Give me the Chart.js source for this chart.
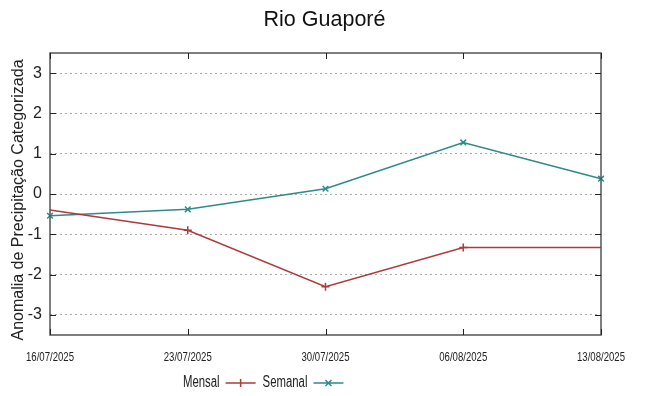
<!DOCTYPE html>
<html>
<head>
<meta charset="utf-8">
<script src="https://cdn.jsdelivr.net/npm/chart.js@4"></script>
<style>
html,body{margin:0;padding:0;background:#fff;}
#wrap{width:649px;height:396px;position:relative;}
</style>
</head>
<body>
<div id="wrap"><canvas id="c" width="649" height="396"></canvas></div>
<script>
const categories = ['16/07/2025', '23/07/2025', '30/07/2025', '06/08/2025', '13/08/2025'];
const mensal = [-0.40, -0.90, -2.30, -1.33, -1.33];
const semanal = [-0.54, -0.38, 0.13, 1.28, 0.38];
const yTicks = [-3, -2, -1, 0, 1, 2, 3];
const chartTitle = 'Rio Guaporé';
const yTitle = 'Anomalia de Precipitação Categorizada';

const RED = '#b03a3a';
const TEAL = '#2f8a8a';
const SANS = '"Liberation Sans", Arial, sans-serif';
const NARROW_SCALE = 0.71;

function narrowText(ctx, text, x, y, align) {
  const w = ctx.measureText(text).width * NARROW_SCALE;
  let left = x;
  if (align === 'center') left = x - w / 2;
  else if (align === 'right') left = x - w;
  ctx.save();
  ctx.translate(left, y);
  ctx.scale(NARROW_SCALE, 1);
  ctx.textAlign = 'left';
  ctx.fillText(text, 0, 0);
  ctx.restore();
  return w;
}

const framePlugin = {
  id: 'frame',
  afterDraw(chart) {
    const ctx = chart.ctx, a = chart.chartArea;
    const xs = chart.scales.x, ys = chart.scales.y;
    ctx.save();
    ctx.strokeStyle = '#555';
    ctx.lineWidth = 1.5;
    ctx.strokeRect(a.left, a.top, a.right - a.left, a.bottom - a.top);
    ctx.lineWidth = 1;
    ctx.strokeStyle = '#222';
    ctx.beginPath();
    const tl = 6;
    yTicks.forEach(v => {
      const y = Math.round(ys.getPixelForValue(v)) + 0.5;
      ctx.moveTo(a.left, y); ctx.lineTo(a.left + tl, y);
      ctx.moveTo(a.right, y); ctx.lineTo(a.right - tl, y);
    });
    categories.forEach((c, i) => {
      const x = Math.round(xs.getPixelForValue(i)) + 0.5;
      ctx.moveTo(x, a.bottom); ctx.lineTo(x, a.bottom - tl);
      ctx.moveTo(x, a.top); ctx.lineTo(x, a.top + tl);
    });
    ctx.stroke();

    ctx.fillStyle = '#111';
    ctx.font = '21.5px ' + SANS;
    ctx.textAlign = 'center';
    ctx.textBaseline = 'middle';
    ctx.fillText(chartTitle, 324.5, 20);

    ctx.save();
    ctx.fillStyle = '#222';
    ctx.font = '16px ' + SANS;
    ctx.translate(19, 200);
    ctx.rotate(-Math.PI / 2);
    ctx.fillText(yTitle, 0, 0);
    ctx.restore();

    ctx.fillStyle = '#222';
    ctx.font = '13.5px ' + SANS;
    ctx.textBaseline = 'middle';
    categories.forEach((c, i) => {
      narrowText(ctx, c, xs.getPixelForValue(i), 357, 'center');
    });

    const y = 383;
    ctx.font = '16px ' + SANS;
    ctx.textBaseline = 'middle';
    let x = 183;
    chart.data.datasets.forEach((ds) => {
      ctx.fillStyle = '#222';
      x += narrowText(ctx, ds.label, x, y, 'left') + 6;
      ctx.strokeStyle = ds.borderColor;
      ctx.lineWidth = 1.5;
      ctx.beginPath();
      ctx.moveTo(x, y); ctx.lineTo(x + 30, y);
      const cx = x + 15, r = 4;
      if (ds.pointStyle === 'cross') {
        ctx.moveTo(cx, y - r); ctx.lineTo(cx, y + r);
      } else {
        const d = r * 0.75;
        ctx.moveTo(cx - d, y - d); ctx.lineTo(cx + d, y + d);
        ctx.moveTo(cx - d, y + d); ctx.lineTo(cx + d, y - d);
      }
      ctx.stroke();
      x += 30 + 7;
    });
    ctx.restore();
  }
};

new Chart(document.getElementById('c'), {
  type: 'line',
  data: {
    labels: categories,
    datasets: [
      {
        label: 'Mensal', data: mensal, borderColor: RED, backgroundColor: RED,
        borderWidth: 1.5, pointStyle: 'cross', pointRadius: [0, 4, 4, 4, 0],
        pointBorderWidth: 1.5, tension: 0, fill: false
      },
      {
        label: 'Semanal', data: semanal, borderColor: TEAL, backgroundColor: TEAL,
        borderWidth: 1.5, pointStyle: 'crossRot', pointRadius: 4,
        pointBorderWidth: 1.5, tension: 0, fill: false
      }
    ]
  },
  options: {
    responsive: false,
    animation: false,
    devicePixelRatio: 1,
    layout: { padding: { left: 0, right: 48, top: 53, bottom: 0 } },
    plugins: {
      legend: { display: false },
      tooltip: { enabled: false },
      title: { display: false }
    },
    scales: {
      x: {
        type: 'category', offset: false,
        grid: { display: false, drawTicks: false },
        border: { display: false },
        ticks: { display: false, autoSkip: false },
        afterFit(s) { s.height = 61; }
      },
      y: {
        min: -3.5, max: 3.5,
        afterBuildTicks(s) { s.ticks = yTicks.map(v => ({ value: v })); },
        grid: { color: '#aaa', lineWidth: 1, drawTicks: false },
        border: { display: false, dash: [2, 3] },
        ticks: { color: '#222', padding: 8, font: { family: SANS, size: 16 } },
        title: { display: false },
        afterFit(s) { s.width = 50; }
      }
    }
  },
  plugins: [framePlugin]
});
</script>
</body>
</html>
